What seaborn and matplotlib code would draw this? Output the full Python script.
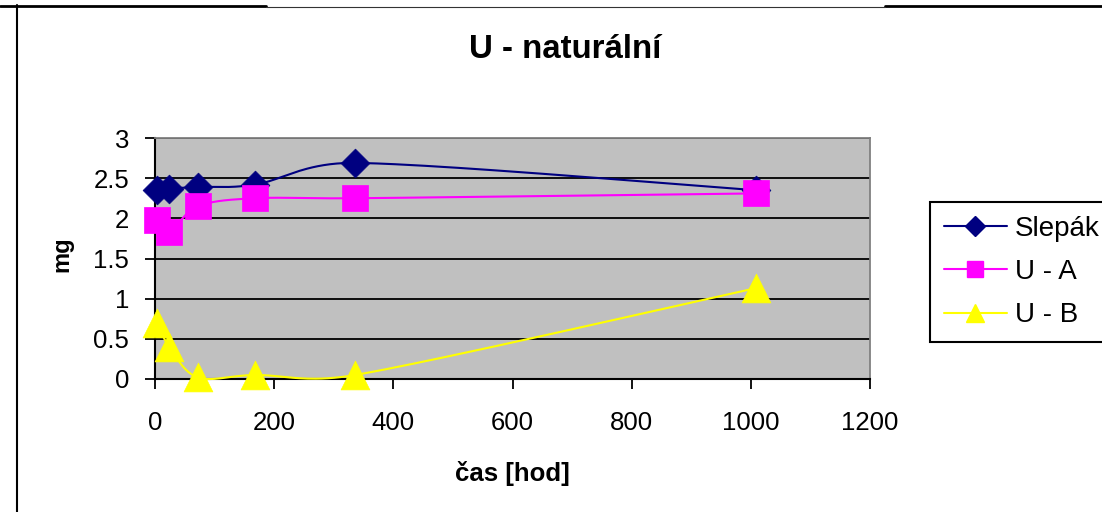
import numpy as np
import pandas as pd
import matplotlib
matplotlib.use("Agg")
import matplotlib.pyplot as plt
from matplotlib.lines import Line2D
import seaborn as sns

# Measured uranium mass over time
hours = [4, 24, 72, 168, 336, 1008]
slepak = [2.35, 2.37, 2.39, 2.42, 2.69, 2.35]
u_a = [1.98, 1.83, 2.15, 2.25, 2.25, 2.31]
u_b = [0.70, 0.40, 0.02, 0.05, 0.05, 1.13]

series_names = ["Slepák", "U - A", "U - B"]
series_values = [slepak, u_a, u_b]
series_colors = ["#000080", "#FF00FF", "#FFFF00"]
series_markers = ["D", "s", "^"]
marker_areas = [215, 370, 430]
legend_ms = [10, 11, 13]

x_ticks = [0, 200, 400, 600, 800, 1000, 1200]
y_ticks = [0, 0.5, 1, 1.5, 2, 2.5, 3]

title_text = "U - naturální"
x_label = "čas [hod]"
y_label = "mg"

sns.set_style("white")
plt.rcParams["font.family"] = ["Liberation Sans", "DejaVu Sans"]
plt.rcParams["text.color"] = "black"
plt.rcParams["axes.labelcolor"] = "black"
plt.rcParams["xtick.color"] = "black"
plt.rcParams["ytick.color"] = "black"


def smooth_curve(ax, x, y, n=40, tension=1 / 6):
    """Smoothed Bezier path through all points, computed in display space
    with control arms limited to half of the segment length."""
    pts = ax.transData.transform(np.column_stack([x, y]).astype(float))
    out = [pts[0]]
    t = np.linspace(0, 1, n)[1:, None]
    m = len(pts)
    for i in range(m - 1):
        p0 = pts[i - 1] if i > 0 else pts[i]
        p1 = pts[i]
        p2 = pts[i + 1]
        p3 = pts[i + 2] if i + 2 < m else pts[i + 1]
        d12 = np.linalg.norm(p2 - p1)
        d02 = np.linalg.norm(p2 - p0)
        d13 = np.linalg.norm(p3 - p1)
        f1 = tension if d02 * tension < d12 / 2 else (d12 / (2 * d02) if d02 > 0 else 0)
        f2 = tension if d13 * tension < d12 / 2 else (d12 / (2 * d13) if d13 > 0 else 0)
        c1 = p1 + (p2 - p0) * f1
        c2 = p2 - (p3 - p1) * f2
        seg = ((1 - t) ** 3) * p1 + 3 * ((1 - t) ** 2) * t * c1 \
            + 3 * (1 - t) * (t ** 2) * c2 + (t ** 3) * p2
        out.extend(seg)
    return ax.transData.inverted().transform(np.array(out))


W, H = 1102, 512
fig = plt.figure(figsize=(W / 100, H / 100), dpi=100)
fig.patch.set_facecolor("white")

ax_left, ax_right, ax_top, ax_bottom = 155, 870, 138, 379
ax = fig.add_axes([ax_left / W, 1 - ax_bottom / H,
                   (ax_right - ax_left) / W, (ax_bottom - ax_top) / H])
ax.set_facecolor("#C0C0C0")
ax.set_xlim(0, 1200)
ax.set_ylim(0, 3)

# smoothed connecting lines
for name, vals, col in zip(series_names, series_values, series_colors):
    curve = smooth_curve(ax, hours, vals)
    df = pd.DataFrame({"x": curve[:, 0], "y": curve[:, 1]})
    sns.lineplot(data=df, x="x", y="y", sort=False, estimator=None,
                 color=col, linewidth=1.5, ax=ax, zorder=3, clip_on=False)

# data point markers
for name, vals, col, mk, area in zip(series_names, series_values,
                                     series_colors, series_markers, marker_areas):
    df = pd.DataFrame({"x": hours, "y": vals})
    sns.scatterplot(data=df, x="x", y="y", marker=mk, s=area, color=col,
                    edgecolor=col, linewidth=0.5, ax=ax, zorder=4, clip_on=False)

ax.set_xlim(0, 1200)
ax.set_ylim(0, 3)
ax.set_xticks(x_ticks)
ax.set_xticklabels([str(v) for v in x_ticks])
ax.set_yticks(y_ticks)
ax.set_yticklabels([f"{v:g}" for v in y_ticks])

ax.set_axisbelow(True)
ax.yaxis.grid(True, color="black", linewidth=1.3)
ax.xaxis.grid(False)

for side in ["left", "bottom"]:
    ax.spines[side].set_color("black")
    ax.spines[side].set_linewidth(1.5)
for side in ["top", "right"]:
    ax.spines[side].set_color("#808080")
    ax.spines[side].set_linewidth(1.3)

ax.tick_params(axis="x", direction="out", length=7.5, width=1.3,
               color="black", labelcolor="black", pad=15.5, labelsize=18.5,
               bottom=True)
ax.tick_params(axis="y", direction="out", length=7.5, width=1.3,
               color="black", labelcolor="black", pad=11, labelsize=18.5,
               left=True)

ax.set_xlabel(x_label, fontsize=18.5, fontweight="bold", labelpad=19,
              color="black")
ax.set_ylabel(y_label, fontsize=17, fontweight="bold", color="black")
ax.yaxis.set_label_coords((73 - ax_left) / (ax_right - ax_left), 0.519)

fig.text(565 / W, 1 - 58 / H, title_text, fontsize=23.8, fontweight="bold",
         ha="center", va="baseline", color="black")

handles = [Line2D([], [], color=c, linewidth=1.5, marker=m, markersize=ms,
                  markerfacecolor=c, markeredgecolor=c)
           for c, m, ms in zip(series_colors, series_markers, legend_ms)]
leg = fig.legend(handles, series_names, loc="upper left",
                 bbox_to_anchor=(930 / W, 1 - 202 / H), borderaxespad=0,
                 fontsize=20, frameon=True, fancybox=False, shadow=False,
                 framealpha=1, edgecolor="black", handlelength=2.27,
                 handletextpad=0.29, borderpad=0.5, labelspacing=0.62)
leg.get_frame().set_linewidth(1.5)
for txt in leg.get_texts():
    txt.set_color("black")

# outer chart frame
fig.add_artist(Line2D([16.7 / W, 16.7 / W], [0, 1 - 5 / H], color="black",
                      linewidth=1.5, transform=fig.transFigure))
fig.add_artist(Line2D([0, 266 / W], [1 - 6 / H, 1 - 6 / H], color="black",
                      linewidth=2, transform=fig.transFigure))
fig.add_artist(Line2D([885 / W, 1], [1 - 6 / H, 1 - 6 / H], color="black",
                      linewidth=2, transform=fig.transFigure))
fig.add_artist(Line2D([266 / W, 885 / W], [1 - 7 / H, 1 - 7 / H], color="#333333",
                      linewidth=0.8, transform=fig.transFigure))

fig.savefig("out.png", dpi=100)
